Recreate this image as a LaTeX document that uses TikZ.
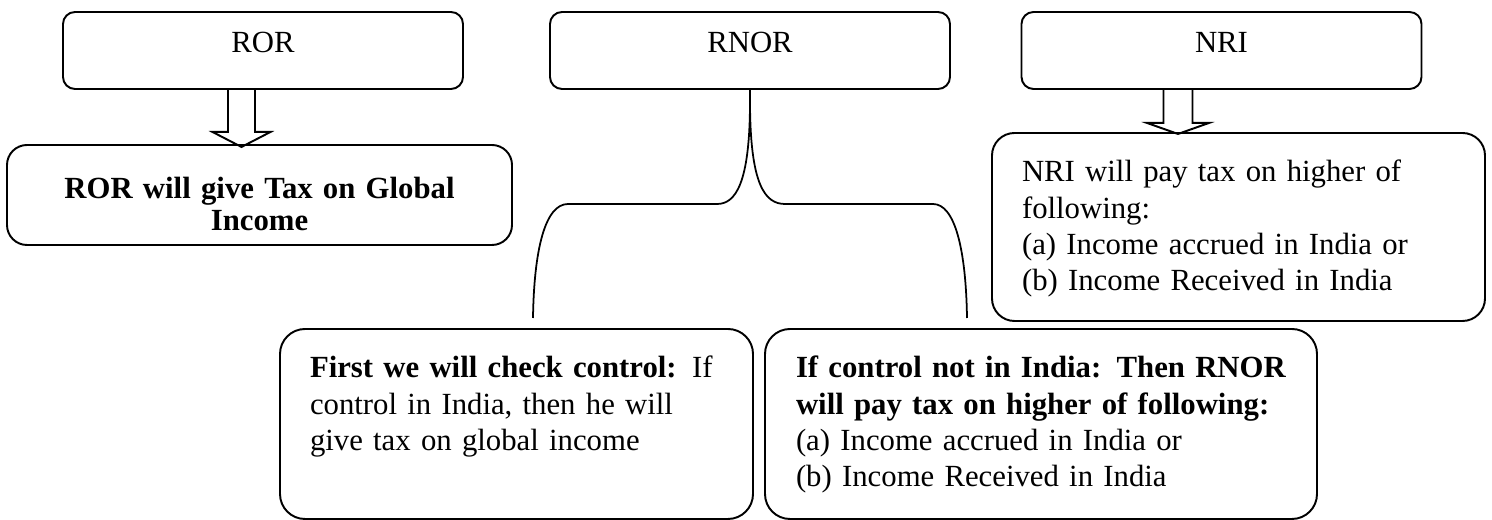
\documentclass[tikz,border=0pt]{standalone}
\usepackage{fontspec}
\setmainfont{Liberation Serif}
\usetikzlibrary{positioning, calc}
\tikzset{
  CAT/.style={draw,line width=1.1pt,rounded corners=0.24cm,minimum width=8cm,inner sep=0pt,text height=0.82cm,text depth=0.72cm,anchor=base},
  OUT/.style={draw,line width=1.1pt,rounded corners=0.5cm,inner ysep=0pt,text height=0.98cm,text depth=2.82cm,align=left,anchor=base},
  BA/.style={draw,line width=1.1pt,line join=miter},
  BR/.style={draw,line width=1pt},
}

\begin{document}
\begin{tikzpicture}[font=\fontsize{17.5}{20.5}\selectfont]
\useasboundingbox (0,0) rectangle (29.84,10.40);

% Residential status
\node[CAT](ror)  at ( 5.26,9.34){ROR};
\node[CAT](rnor) at (15.00,9.34){RNOR};
\node[CAT](nri)  at (24.43,9.34){NRI};

% Outcomes
\node[OUT,align=center,font=\fontsize{17.5}{18.2}\selectfont\bfseries,text width=9.7cm,inner xsep=0.2cm,rounded corners=0.4cm,text height=1.08cm,text depth=0.92cm](rorout) at (5.19,6.42){ROR will give Tax on Global\\Income};
\node[OUT,text width=8.66cm,inner xsep=0.6cm,rounded corners=0.45cm,text depth=2.78cm](nriout) at (24.77,6.76){NRI will pay tax on higher of\\following:\\(a) Income accrued in India or\\(b) Income Received in India};
\node[OUT,text width=8.26cm,inner xsep=0.6cm](ctrlin) at (10.33,2.84){\mbox{\textbf{First we will check control:} If}\\control in India, then he will\\give tax on global income};
\node[OUT,text width=9.8cm,inner xsep=0.62cm](ctrlout) at (20.82,2.84){\mbox{\textbf{If control not in India: Then RNOR}}\\\mbox{\textbf{will pay tax on higher of following:}}\\(a) Income accrued in India or\\(b) Income Received in India};

% Block arrows
\draw[BA]([xshift=-0.70cm]ror.south)--++(0,-0.84)--++(-0.31,0)--++(0.58,-0.30)--++(0.58,0.30)--++(-0.31,0)--++(0,0.84);
\draw[BA]([xshift=-1.16cm]nri.south)--++(0,-0.66)--++(-0.33,0)--++(0.62,-0.22)--++(0.62,0.22)--++(-0.33,0)--++(0,0.66);

% RNOR brace (two branches)
\coordinate (bl) at (10.66,4.04);
\coordinate (br) at (19.34,4.04);
\draw[BR](rnor.south)--++(0,-0.22) .. controls (15.00,6.70) and (14.70,6.32) .. (14.34,6.32)--(11.36,6.32) .. controls (10.90,6.32) and (10.68,5.40) .. (bl);
\draw[BR](rnor.south)--++(0,-0.22) .. controls (15.00,6.70) and (15.30,6.32) .. (15.70,6.32)--(18.66,6.32) .. controls (19.10,6.32) and (19.32,5.40) .. (br);

\end{tikzpicture}
\end{document}
